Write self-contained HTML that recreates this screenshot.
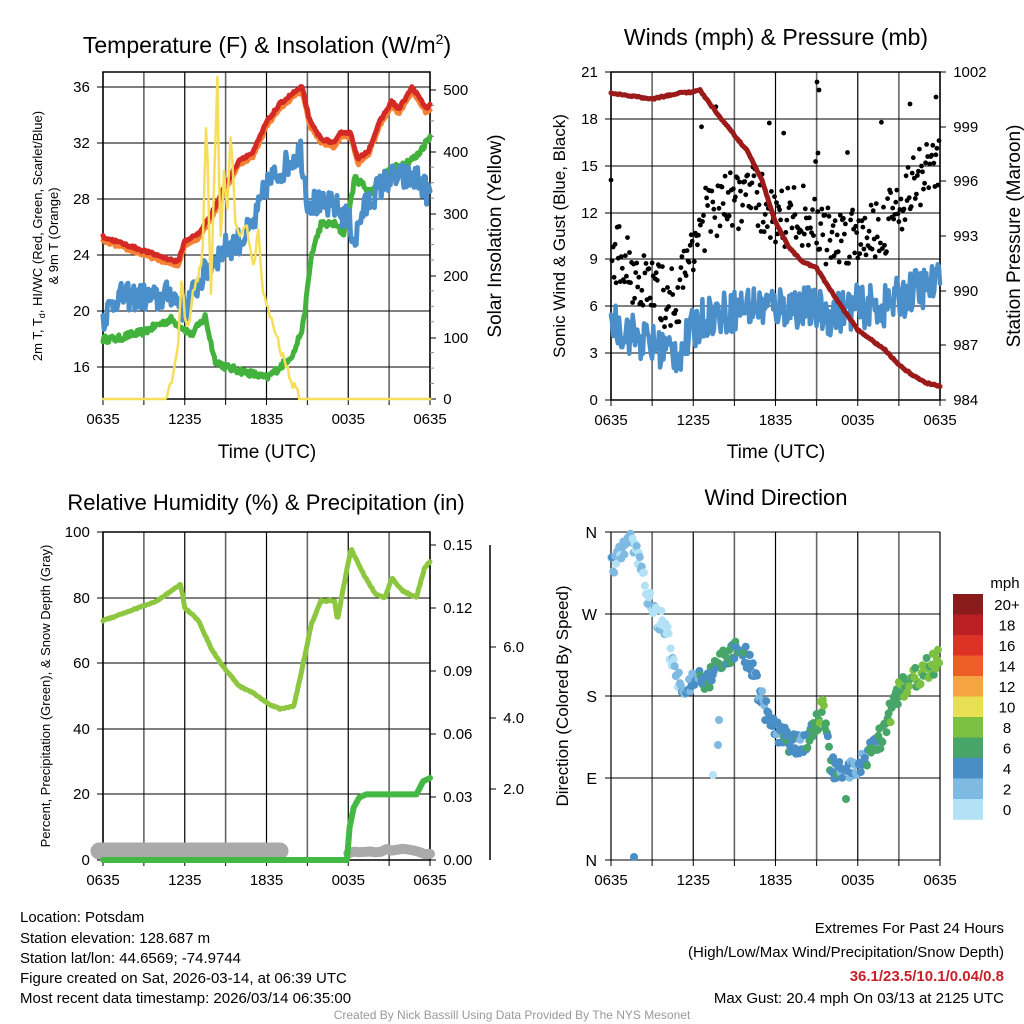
<!DOCTYPE html>
<html><head><meta charset="utf-8"><style>
html,body{margin:0;padding:0;background:#fff}
svg{display:block;font-family:"Liberation Sans",Arial,sans-serif}
</style></head><body>
<svg id="s" width="1024" height="1024" viewBox="0 0 1024 1024" xmlns="http://www.w3.org/2000/svg">
<rect width="1024" height="1024" fill="#fff"/>
<g id="g"></g>
<text x="267" y="53" font-size="23" text-anchor="middle">Temperature (F) &amp; Insolation (W/m<tspan dy="-9" font-size="14">2</tspan><tspan dy="9">)</tspan></text>
<text x="776" y="45" font-size="23" text-anchor="middle">Winds (mph) &amp; Pressure (mb)</text>
<text x="266" y="510" font-size="22" text-anchor="middle">Relative Humidity (%) &amp; Precipitation (in)</text>
<text x="776" y="505" font-size="22" text-anchor="middle">Wind Direction</text>
<text x="267" y="458" font-size="19" text-anchor="middle">Time (UTC)</text>
<text x="776" y="458" font-size="19" text-anchor="middle">Time (UTC)</text>
<text transform="translate(42,236) rotate(-90)" font-size="13" text-anchor="middle">2m T, T<tspan dy="3" font-size="9">d</tspan><tspan dy="-3">, HI/WC (Red, Green, Scarlet/Blue)</tspan></text>
<text transform="translate(58,236) rotate(-90)" font-size="13" text-anchor="middle">&amp; 9m T (Orange)</text>
<text transform="translate(501,236) rotate(-90)" font-size="19" text-anchor="middle">Solar Insolation (Yellow)</text>
<text transform="translate(565,236) rotate(-90)" font-size="17" text-anchor="middle">Sonic Wind &amp; Gust (Blue, Black)</text>
<text transform="translate(1020,236) rotate(-90)" font-size="19" text-anchor="middle">Station Pressure (Maroon)</text>
<text transform="translate(50,696) rotate(-90)" font-size="13" text-anchor="middle">Percent, Precipitation (Green), &amp; Snow Depth (Gray)</text>
<text transform="translate(568,696) rotate(-90)" font-size="17" text-anchor="middle">Direction (Colored By Speed)</text>
<g font-size="15">
<text x="20" y="922">Location: Potsdam</text>
<text x="20" y="943">Station elevation: 128.687 m</text>
<text x="20" y="963">Station lat/lon: 44.6569; -74.9744</text>
<text x="20" y="983">Figure created on Sat, 2026-03-14, at 06:39 UTC</text>
<text x="20" y="1003">Most recent data timestamp: 2026/03/14 06:35:00</text>
<text x="1004" y="933" text-anchor="end">Extremes For Past 24 Hours</text>
<text x="1004" y="957" text-anchor="end">(High/Low/Max Wind/Precipitation/Snow Depth)</text>
<text x="1004" y="981" text-anchor="end" fill="#c8202a" font-weight="bold">36.1/23.5/10.1/0.04/0.8</text>
<text x="1004" y="1003" text-anchor="end">Max Gust: 20.4 mph On 03/13 at 2125 UTC</text>
</g>
<text x="512" y="1019" font-size="12" fill="#999" text-anchor="middle">Created By Nick Bassill Using Data Provided By The NYS Mesonet</text>
</svg>
<script>
(function(){
var out=[];
var seed=12345;function rnd(){seed=(seed*16807)%2147483647;return (seed-1)/2147483646;}
function interp(k,t){for(var i=0;i<k.length-1;i++){if(t<=k[i+1][0]){var a=k[i],b=k[i+1];var f=(t-a[0])/(b[0]-a[0]||1);return a[1]+(b[1]-a[1])*f;}}return k[k.length-1][1];}
function P(x0,x1){return function(h){return x0+(x1-x0)*h/24;};}
function line(pts,col,w){out.push('<polyline fill="none" stroke="'+col+'" stroke-width="'+w+'" stroke-linejoin="round" stroke-linecap="round" points="'+pts.map(function(p){return p[0].toFixed(1)+','+p[1].toFixed(1)}).join(' ')+'"/>');}
function series(k,X,Y,noise,n,pos){var p=[];n=n||288;for(var i=0;i<=n;i++){var h=24*i/n;var b=interp(k,h);var v=b+((noise&&(!pos||b>0))?(rnd()-0.5)*noise:0);if(pos&&v<0)v=0;p.push([X(h),Y(v)]);}return p;}
function frame(x0,y0,x1,y1){
 for(var i=0;i<=8;i++){var x=x0+(x1-x0)*i/8;out.push('<line x1="'+x+'" y1="'+y0+'" x2="'+x+'" y2="'+y1+'" stroke="'+(i%2?'#666':'#000')+'" stroke-width="'+(i%2?1.6:1.2)+'"/>');
  out.push('<line x1="'+x+'" y1="'+y1+'" x2="'+x+'" y2="'+(y1+6)+'" stroke="#000"/>');
  if(i%2==0)out.push('<text x="'+x+'" y="'+(y1+25)+'" font-size="15" text-anchor="middle">'+['0635','1235','1835','0035','0635'][i/2]+'</text>');}
}
function hgrid(x0,x1,ys){ys.forEach(function(y){out.push('<line x1="'+x0+'" y1="'+y+'" x2="'+x1+'" y2="'+y+'" stroke="#000" stroke-width="1"/>');});}
function ylabels(x,ys,labs,anchor,tickdir){ys.forEach(function(y,i){out.push('<line x1="'+x+'" y1="'+y+'" x2="'+(x+tickdir)+'" y2="'+y+'" stroke="#000"/>');out.push('<text x="'+(x+tickdir*2.2)+'" y="'+(y+5)+'" font-size="15" text-anchor="'+anchor+'">'+labs[i]+'</text>');});}

// Panel 1
var X1=P(103,430);var TY=function(v){return 367-(v-16)*14;};var SY=function(v){return 399-v*0.618;};
frame(103,72,430,399);
hgrid(103,430,[87,143,199,255,311,367]);
out.push('<rect x="103" y="72" width="327" height="327" fill="none" stroke="#000" stroke-width="1.5"/>');
ylabels(103,[87,143,199,255,311,367],['36','32','28','24','20','16'],'end',-6);
ylabels(430,[90,152,214,276,338,399],['500','400','300','200','100','0'],'start',6);
for(var v=25;v<525;v+=25){if(v%100)out.push('<line x1="430" y1="'+SY(v)+'" x2="434" y2="'+SY(v)+'" stroke="#888"/>');}
var red=[[0,25.3],[3,24.3],[5.5,23.5],[6,25],[7,25.5],[8,27],[9,29],[10,30.8],[11,31.3],[12,33.5],[13,34.8],[14,35.6],[14.6,36],[15.2,33.5],[16,32.3],[17,32],[17.5,32.8],[18.2,32.7],[18.7,30.8],[19.5,31.5],[20.3,33.5],[21.2,35],[21.7,34.4],[22.7,36],[23.7,34.5],[24,34.7]];
var orng=red.map(function(p){return [p[0],p[1]-0.3];});
var blue=[[0,19.5],[1,21],[2,21],[3,21],[4,20.8],[5,21.3],[6,20],[6.5,21],[7,22],[8,23.5],[9,24.5],[10,25],[11,26],[11.5,27.5],[12,29],[13,30],[14,31],[14.5,31.5],[15,28],[16,27.5],[17,27.5],[18,26.5],[18.5,25],[19,27],[20,28.5],[21,29.5],[22,29.5],[23,29.5],[24,28.3]];
var green=[[0,18],[1,18],[2,18.3],[3,18.5],[4,19],[5,19.4],[6,18.7],[6.5,18.3],[7.5,19.6],[8.2,16.5],[9,16],[11,15.5],[12,15.2],[13,16],[14,17],[14.7,19],[15.3,24],[16,26.2],[17,26.2],[17.7,25.5],[18.5,29.5],[19.7,28.5],[21,30],[22,30.5],[23,31],[24,32.5]];
var sol=[[0,0],[4.5,0],[5,20],[5.5,80],[5.8,210],[6,130],[6.3,110],[6.6,170],[7,200],[7.3,230],[7.6,470],[7.9,150],[8.1,310],[8.4,525],[8.6,250],[8.9,370],[9.1,300],[9.4,440],[9.7,280],[10,260],[10.5,290],[11,210],[11.4,270],[11.7,180],[12,150],[12.5,120],[13,80],[13.5,50],[14,20],[14.5,0],[24,0]];
line(series(green,X1,TY,0.5),'#42b23c',5);
line(series(blue,X1,TY,2.0),'#4b8fca',5);
line(series(orng,X1,TY,0.2),'#f58232',5);
line(series(red,X1,TY,0.2),'#d42a26',5);
line(series(sol,X1,SY,15,200,true),'#f7de5a',2.5);

// Panel 2
var X2=P(611,940);var WY=function(v){return 400-v*15.62;};
frame(611,72,940,400);
hgrid(611,940,[72,119,166,213,259,306,353,400]);
out.push('<rect x="611" y="72" width="329" height="328" fill="none" stroke="#000" stroke-width="1.5"/>');
ylabels(611,[72,119,166,213,259,306,353,400],['21','18','15','12','9','6','3','0'],'end',-6);
ylabels(940,[72,127,181,236,291,345,400],['1002','999','996','993','990','987','984'],'start',6);
var son=[[0,5],[2,4],[3,3.5],[5,3],[6,4.5],[7,5.5],[8,5.5],[10,6],[12,6],[14,6],[16,5.5],[18,6],[20,6],[22,7],[24,7.5]];
line(series(son,X2,WY,2.8),'#4b8fca',4.5);
var gb=[[0,4],[2,3],[4,2.5],[5,3],[6,5],[8,6],[10,6.5],[12,5],[14,5],[16,4],[18,4],[20,4.5],[22,6],[24,7]];
for(var i=0;i<320;i++){var h=24*i/320;var v=interp(son,h)+interp(gb,h)+(rnd()-0.3)*4;if(rnd()<0.04)v+=6;out.push('<circle cx="'+X2(h).toFixed(1)+'" cy="'+WY(v).toFixed(1)+'" r="2.4" fill="#000"/>');}
out.push('<circle cx="817" cy="82" r="2.4"/><circle cx="819" cy="90" r="2.4"/><circle cx="818" cy="153" r="2.4"/><circle cx="910" cy="104" r="2.4"/><circle cx="936" cy="97" r="2.4"/>');
var prpx=[[0,93],[2,97],[3,99],[4,96],[5,93],[6,92],[6.5,90],[7,100],[8,118],[9,135],[10,152],[11,180],[12,222],[13,248],[14,262],[15,268],[16,290],[17,310],[18,330],[19,340],[20,350],[21,365],[22,375],[23,383],[24,386]];
line(series(prpx,X2,function(v){return v;},1.5),'#9b1b1b',5);

// Panel 3
var X3=P(103,430);var RY=function(v){return 860-v*3.28;};
frame(103,532,430,860);
hgrid(103,430,[532,598,663,729,794,860]);
out.push('<rect x="103" y="532" width="327" height="328" fill="none" stroke="#000" stroke-width="1.5"/>');
ylabels(103,[532,598,663,729,794,860],['100','80','60','40','20','0'],'end',-6);
ylabels(430,[545,608,671,734,797,860],['0.15','0.12','0.09','0.06','0.03','0.00'],'start',6);
out.push('<line x1="490" y1="545" x2="490" y2="860" stroke="#000" stroke-width="1.5"/>');
ylabels(490,[647,718,789],['6.0','4.0','2.0'],'start',6);
var rh=[[0,73],[2,76],[4,79],[5.7,84],[6,77],[7,73],[8,64],[9,58],[10,53],[11,51],[12,48],[13,46],[14,47],[14.5,56],[15.3,72],[16,79],[17,79],[17.2,73],[17.6,82],[18.2,95],[19,88],[20,81],[20.7,80],[21.2,86],[22,82],[23,80],[23.6,89],[24,91]];
line([[99,851],[280,851]],'#aaa',17);
line(series([[0,2],[17.5,2],[18,1],[19,2],[20,1.5],[21,2.5],[22,3],[23,1.5],[24,1]],X3,function(v){return 860-v*2.5-4;},1,60).slice(45),'#aaa',10);
var pc=[[0,0],[17.9,0],[18.1,10],[18.4,16],[18.8,19],[19.3,20],[23,20],[23.5,24],[24,25]];
line(series(pc,X3,RY,0,240),'#44b844',6);
line(series(rh,X3,RY,0.4),'#8dc63f',5);

// Panel 4
var X4=P(611,940);var DY=function(d){return 860-d/360*328;};
frame(611,532,940,860);
hgrid(605,940,[532,614,696,778,860]);
[['N',532],['W',614],['S',696],['E',778],['N',860]].forEach(function(a){out.push('<text x="597" y="'+(a[1]+6)+'" font-size="16" text-anchor="end">'+a[0]+'</text>');});
var dir=[[0,320],[0.5,330],[1,340],[1.5,350],[2,330],[2.5,300],[3,275],[4,255],[4.5,215],[5,195],[6,195],[7,195],[8,215],[9,230],[10,220],[11,175],[12,140],[13,130],[14,125],[15,150],[15.5,170],[16,105],[17,90],[18,105],[19,120],[20,140],[20.5,170],[21,185],[22,200],[23,210],[24,220]];
var spd=[[0,3],[2,2.5],[4,2],[5,3],[6,4],[7,6],[8,6.5],[9,6],[10,5],[11,4],[12,5],[13,5.5],[14,5],[15,7],[15.5,9],[16,5],[17,5],[18,4],[19,6],[20,7],[22,7.5],[24,9]];
var cols=['#b3e1f5','#7fbae3','#4a8ec6','#48a56a','#7cc142','#e8e052','#f5a442'];
for(var i=0;i<320;i++){var h=24*i/320;var d=interp(dir,h)+(rnd()-0.5)*26;var s=interp(spd,h)+(rnd()-0.5)*2.5;var ci=Math.max(0,Math.min(6,Math.floor(s/2)));out.push('<circle cx="'+X4(h).toFixed(1)+'" cy="'+DY(d).toFixed(1)+'" r="4" fill="'+cols[ci]+'"/>');}
out.push('<circle cx="634" cy="857" r="4" fill="#4a8ec6"/><circle cx="713" cy="775" r="4" fill="#b3e1f5"/><circle cx="718" cy="745" r="4" fill="#7fbae3"/><circle cx="719" cy="720" r="4" fill="#7fbae3"/><circle cx="846" cy="799" r="4" fill="#48a56a"/>');
var cb=['#8b1a1a','#bb1e23','#dd3226','#ee5e27','#f5a442','#e8e052','#7cc142','#48a56a','#4a8ec6','#7fbae3','#b3e1f5'];
var lb=['20+','18','16','14','12','10','8','6','4','2','0'];
out.push('<text x="1005" y="588" font-size="15" text-anchor="middle">mph</text>');
for(var i=0;i<11;i++){var y=594+i*20.5;out.push('<rect x="953" y="'+y+'" width="30" height="20.8" fill="'+cb[i]+'"/>');out.push('<text x="1007" y="'+(y+16)+'" font-size="15" text-anchor="middle">'+lb[i]+'</text>');}
document.getElementById('g').innerHTML=out.join('');
})();
</script>
</body></html>
